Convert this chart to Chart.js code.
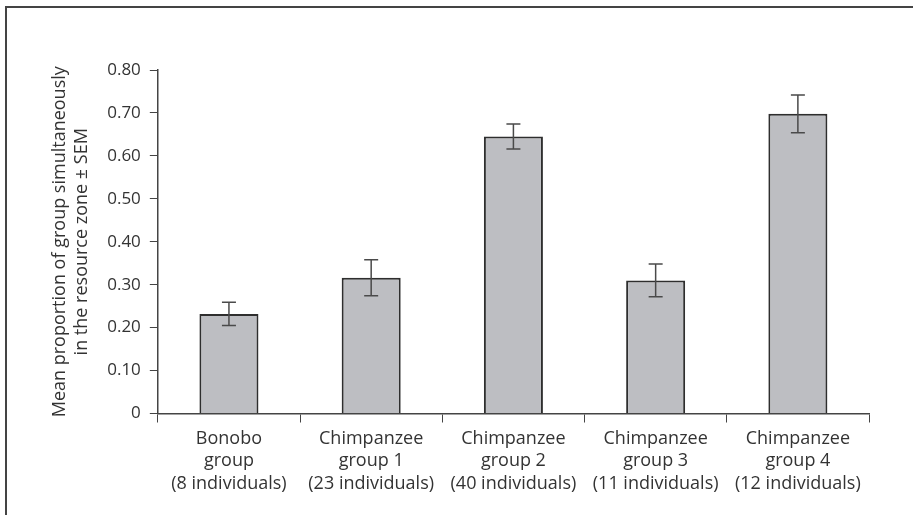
<!DOCTYPE html>
<html>
<head>
<meta charset="utf-8">
<script src="https://cdn.jsdelivr.net/npm/chart.js@4.4.0/dist/chart.umd.min.js"></script>
<style>
  html, body { margin: 0; padding: 0; background: #fff; }
  #wrap { position: relative; width: 913px; height: 515px; overflow: hidden; }
  #frame { position: absolute; left: 5px; top: 6px; width: 1000px; height: 600px;
           border-top: 2px solid #444; border-left: 2px solid #444; }
  canvas { position: absolute; left: 0; top: 0; }
</style>
</head>
<body>
<div id="wrap">
  <div id="frame"></div>
  <canvas id="myChart" width="913" height="515"></canvas>
</div>
<script>
const groups = [
  ["Bonobo", "group", "(8 individuals)"],
  ["Chimpanzee", "group 1", "(23 individuals)"],
  ["Chimpanzee", "group 2", "(40 individuals)"],
  ["Chimpanzee", "group 3", "(11 individuals)"],
  ["Chimpanzee", "group 4", "(12 individuals)"]
];
const means = [0.232, 0.316, 0.645, 0.310, 0.698];
const sems = [0.027, 0.042, 0.029, 0.038, 0.044];

// error bars drawn through the y scale
const errorBars = {
  id: 'errorBars',
  afterDatasetsDraw(chart) {
    const ctx = chart.ctx;
    const y = chart.scales.y;
    const meta = chart.getDatasetMeta(0);
    ctx.save();
    ctx.strokeStyle = '#4a4a4a';
    ctx.lineWidth = 1.5;
    meta.data.forEach((bar, i) => {
      const top = y.getPixelForValue(means[i] + sems[i]);
      const bot = y.getPixelForValue(means[i] - sems[i]);
      const cap = 7;
      ctx.beginPath();
      ctx.moveTo(bar.x, top); ctx.lineTo(bar.x, bot);
      ctx.moveTo(bar.x - cap, top); ctx.lineTo(bar.x + cap, top);
      ctx.moveTo(bar.x - cap, bot); ctx.lineTo(bar.x + cap, bot);
      ctx.stroke();
    });
    ctx.restore();
  }
};

Chart.defaults.font.family = "'Open Sans', sans-serif";
Chart.defaults.color = '#333';

const myChart = new Chart(document.getElementById('myChart'), {
  type: 'bar',
  data: {
    labels: groups,
    datasets: [{
      data: means,
      backgroundColor: '#bdbec2',
      borderColor: '#2e2e2e',
      borderWidth: 2,
      categoryPercentage: 1,
      barPercentage: 0.415
    }]
  },
  options: {
    responsive: false,
    animation: false,
    layout: { padding: { left: 49, top: 70, right: 44, bottom: 15 } },
    plugins: { legend: { display: false }, tooltip: { enabled: false } },
    scales: {
      x: {
        grid: { drawOnChartArea: false, tickLength: 9, color: '#444', offset: true },
        border: { color: '#444', width: 1.5 },
        ticks: { font: { size: 18, lineHeight: 1.25 }, padding: 5, maxRotation: 0, color: '#333' }
      },
      y: {
        min: 0, max: 0.8,
        grid: { drawOnChartArea: false, tickLength: 8, color: '#444' },
        border: { color: '#444', width: 1.5 },
        ticks: {
          stepSize: 0.1, font: { size: 17 }, padding: 9, color: '#333',
          callback: v => v === 0 ? '0' : v.toFixed(2)
        },
        title: {
          display: true,
          text: ['Mean proportion of group simultaneously', 'in the resource zone \u00b1 SEM'],
          font: { size: 18, lineHeight: 1.2 },
          color: '#333',
          padding: { top: 0, bottom: 6 }
        }
      }
    }
  },
  plugins: [errorBars]
});
</script>
</body>
</html>
